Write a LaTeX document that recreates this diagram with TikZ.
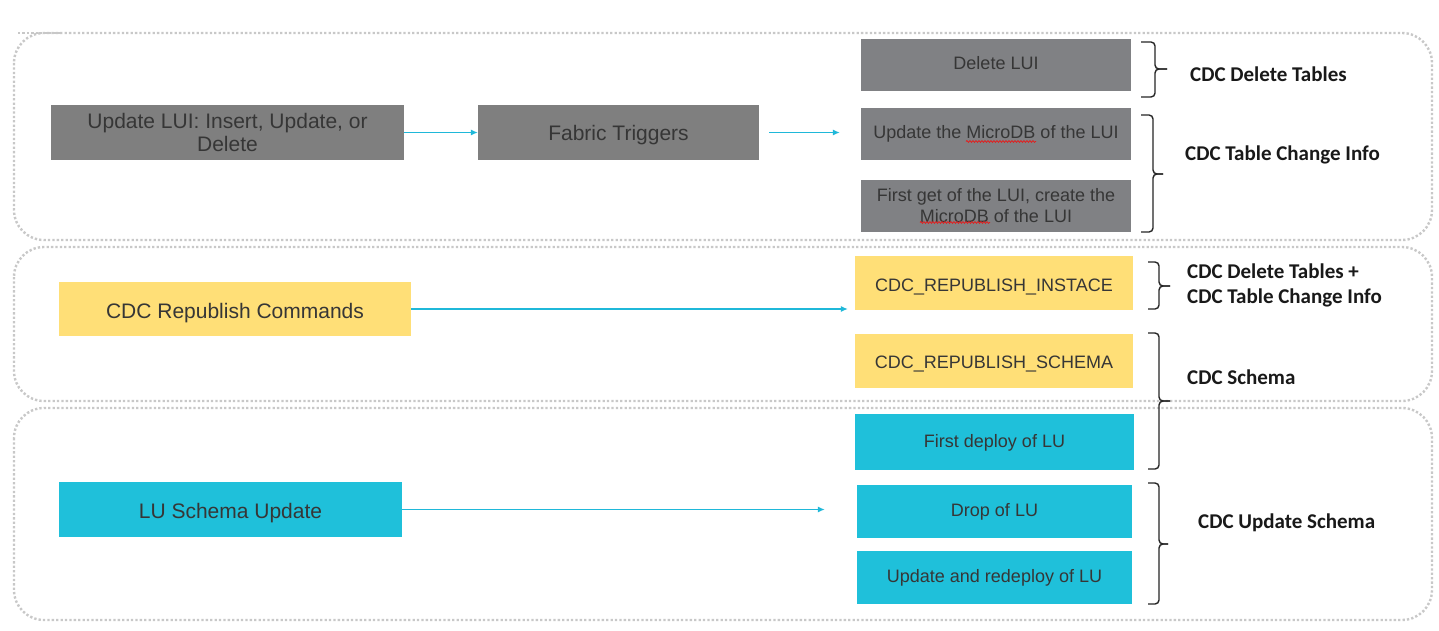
\documentclass[tikz,border=0pt]{standalone}
\usepackage{fontspec}
\setmainfont{Liberation Sans}
\newfontfamily\lblfont{Carlito}
\usetikzlibrary{arrows.meta,decorations.pathmorphing}
\definecolor{boxgray}{HTML}{7F7F7F}
\definecolor{boxgrayr}{HTML}{808184}
\definecolor{boxyel}{HTML}{FFDF77}
\definecolor{boxcyan}{HTML}{1FC0DA}
\definecolor{arrcyan}{HTML}{1FB8D9}
\definecolor{txt}{HTML}{363636}
\definecolor{frame}{HTML}{C8C8C8}
\definecolor{spell}{HTML}{E02020}
\newcommand{\lowr}[2]{\raisebox{-#1}[\height][\depth]{#2}}
\tikzset{
  box/.style={rectangle, inner sep=0pt, align=center, text=txt},
  bigtxt/.style={font=\fontsize{21}{23}\selectfont},
  smalltxt/.style={font=\fontsize{18}{21}\selectfont},
  grayL/.style={box, bigtxt, fill=boxgray},
  grayR/.style={box, smalltxt, fill=boxgrayr},
  yelL/.style={box, bigtxt, fill=boxyel},
  yelR/.style={box, smalltxt, fill=boxyel},
  cyaL/.style={box, bigtxt, fill=boxcyan},
  cyaR/.style={box, smalltxt, fill=boxcyan},
  flow/.style={draw=arrcyan, line width=1.1pt, -{Latex[length=7pt,width=6pt]}},
  container/.style={draw=frame, line width=2.4pt, dash pattern=on 2.3pt off 2.1pt, rounded corners=30pt},
  brk/.style={draw=black!85, line width=1.4pt, rounded corners=4pt},
  lbl/.style={anchor=west, align=left, text=black!90, font=\lblfont\bfseries\fontsize{21}{25}\selectfont, inner sep=0pt},
  squiggle/.style={draw=spell, line width=0.8pt, decorate, decoration={snake, segment length=3pt, amplitude=0.9pt}},
}
\begin{document}
\begin{tikzpicture}[x=1pt,y=-1pt]
\useasboundingbox (0,0) rectangle (1439,631);
\fill[white] (0,0) rectangle (1439,631);
% containers
\draw[container] (14,33) rectangle (1432,240);
\draw[draw=frame, line width=2.4pt, dash pattern=on 2.3pt off 2.1pt] (18,33) -- (60,33);
\draw[container] (14,247) rectangle (1432,401);
\draw[container] (14,408) rectangle (1432,620);
% nodes
\node[grayL, minimum width=353pt, minimum height=55pt] (upd) at (227.5,132.5) {Update LUI: Insert, Update, or\\Delete};
\node[grayL, minimum width=281pt, minimum height=55pt] (fab) at (618.5,132.5) {\lowr{3pt}{Fabric Triggers}};
\node[grayR, minimum width=270pt, minimum height=52pt] (del) at (996,65) {\lowr{-2pt}{Delete LUI}};
\node[grayR, minimum width=270pt, minimum height=52pt] (umd) at (996,134) {Update the MicroDB of the LUI};
\node[grayR, minimum width=270pt, minimum height=52pt] (fgt) at (996,206) {First get of the LUI, create the\\MicroDB of the LUI};
\node[yelL, minimum width=352pt, minimum height=54pt] (crc) at (235,309) {\lowr{4pt}{CDC Republish Commands}};
\node[yelR, minimum width=278pt, minimum height=54pt] (rpi) at (994,283) {\lowr{4pt}{CDC\_REPUBLISH\_INSTACE}};
\node[yelR, minimum width=278pt, minimum height=54pt] (rps) at (994,361) {\lowr{3pt}{CDC\_REPUBLISH\_SCHEMA}};
\node[cyaR, minimum width=279pt, minimum height=56pt] (fdl) at (994.5,442) {\lowr{1pt}{First deploy of LU}};
\node[cyaL, minimum width=343pt, minimum height=55pt] (lsu) at (230.5,509.5) {\lowr{4pt}{LU Schema Update}};
\node[cyaR, minimum width=275pt, minimum height=53pt] (drp) at (994.5,511.5) {Drop of LU};
\node[cyaR, minimum width=275pt, minimum height=53pt] (urd) at (994.5,577.5) {Update and redeploy of LU};
% spell-check marks
\draw[squiggle] (966,141.5) -- (1036,141.5);
\draw[squiggle] (920,222.5) -- (990,222.5);
% connectors
\draw[flow] (upd.east) -- (fab.west);
\draw[flow] ([xshift=10pt]fab.east) -- ([xshift=-21pt]fab.east -| umd.west);
\draw[flow] (crc.east) -- ([xshift=-7pt]crc.east -| rpi.west);
\draw[flow] (lsu.east) -- ([xshift=-32pt]lsu.east -| drp.west);
% braces
\draw[brk] (1141,42) -- (1155,42) -- (1155,69) -- (1167,69);
\draw[brk] (1141,97) -- (1155,97) -- (1155,69) -- (1167,69);
\draw[brk] (1141,115) -- (1153,115) -- (1153,174) -- (1163,174);
\draw[brk] (1141,232) -- (1153,232) -- (1153,174) -- (1163,174);
\draw[brk] (1148,262) -- (1159,262) -- (1159,286) -- (1170,286);
\draw[brk] (1148,309) -- (1159,309) -- (1159,286) -- (1170,286);
\draw[brk] (1148,333) -- (1159,333) -- (1159,401) -- (1170,401);
\draw[brk] (1148,469) -- (1159,469) -- (1159,401) -- (1170,401);
\draw[brk] (1148,483) -- (1159,483) -- (1159,544) -- (1168,544);
\draw[brk] (1148,604) -- (1159,604) -- (1159,544) -- (1168,544);
% labels
\node[lbl] (l1) at (1190,74) {CDC Delete Tables};
\node[lbl] (l2) at (1185,155) {CDC Table Change Info};
\node[lbl] (l3) at (1187,285.5) {CDC Delete Tables +\\CDC Table Change Info};
\node[lbl] (l4) at (1187,377) {CDC Schema};
\node[lbl] (l5) at (1198,523) {CDC Update Schema};
\end{tikzpicture}
\end{document}
